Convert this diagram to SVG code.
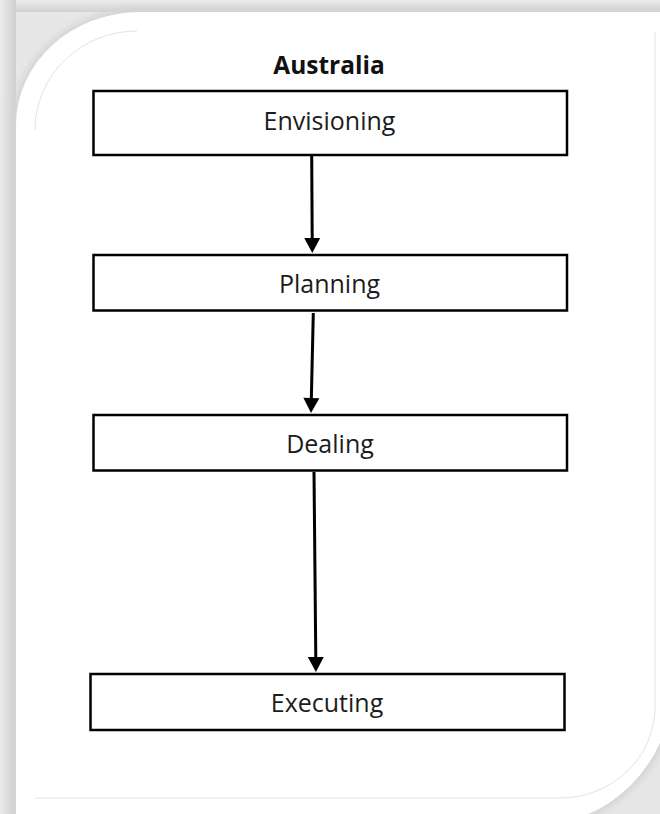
<svg xmlns="http://www.w3.org/2000/svg" width="660" height="814" viewBox="0 0 660 814">
  <defs>
    <style>
      .box { fill: #ffffff; stroke: #000000; stroke-width: 2.5; }
      .label { font-family: "Open Sans", "Noto Sans", "Liberation Sans", sans-serif; font-size: 25px; fill: #1c1c1c; text-anchor: middle; }
      .title { font-family: "Open Sans", "Noto Sans", "Liberation Sans", sans-serif; font-size: 24.5px; font-weight: 700; fill: #111111; text-anchor: middle; }
      .flow { fill: none; stroke: #000000; stroke-width: 3; marker-end: url(#head); }
      .rim { fill: none; stroke: #e3e3e3; stroke-width: 1; }
    </style>
    <marker id="head" markerUnits="userSpaceOnUse" markerWidth="18" markerHeight="18" viewBox="0 -9 16 18" refX="2" refY="0" orient="auto">
      <path d="M0,-8 L15,0 L0,8 Z" fill="#000000"/>
    </marker>
    <linearGradient id="topBand" x1="0" y1="0" x2="0" y2="1">
      <stop offset="0" stop-color="#ececec"/>
      <stop offset="1" stop-color="#d2d2d2"/>
    </linearGradient>
    <linearGradient id="leftBand" x1="0" y1="0" x2="1" y2="0">
      <stop offset="0" stop-color="#ebebeb"/>
      <stop offset="1" stop-color="#cfcfcf"/>
    </linearGradient>
    <filter id="soft" x="-10%" y="-10%" width="120%" height="120%">
      <feGaussianBlur stdDeviation="3.5"/>
    </filter>
  </defs>

  <!-- page backdrop and frame shadow -->
  <rect x="0" y="0" width="660" height="814" fill="#e7e7e7"/>
  <rect x="0" y="0" width="660" height="12" fill="url(#topBand)"/>
  <rect x="0" y="0" width="16" height="814" fill="url(#leftBand)"/>
  <path d="M12,826 L12,125 A128,117 0 0 1 140,8 L676,8 L676,686 A144,144 0 0 1 532,830 Z" fill="#d4d4d4" filter="url(#soft)"/>

  <!-- white card -->
  <path id="card" d="M16,826 L16,125 A124,113 0 0 1 140,12 L672,12 L672,686 A140,140 0 0 1 532,826 Z" fill="#ffffff"/>
  <path class="rim" d="M35,130 A102,99 0 0 1 137,31"/>
  <path class="rim" d="M655,32 L655,707 A95,91 0 0 1 560,798 L35,798"/>

  <text class="title" x="329" y="73.5">Australia</text>

  <g id="connectors">
    <path class="flow" d="M311.7,156 L312.2,240"/>
    <path class="flow" d="M313.3,313 L311.3,400"/>
    <path class="flow" d="M314,472 L315.8,659"/>
  </g>

  <g id="envisioning">
    <rect class="box" x="93.5" y="91" width="473.5" height="64"/>
    <text class="label" x="329.5" y="130">Envisioning</text>
  </g>
  <g id="planning">
    <rect class="box" x="93.5" y="255" width="473.5" height="55.5"/>
    <text class="label" x="329.5" y="292.5">Planning</text>
  </g>
  <g id="dealing">
    <rect class="box" x="93.5" y="415" width="473.5" height="55.5"/>
    <text class="label" x="330" y="452.5">Dealing</text>
  </g>
  <g id="executing">
    <rect class="box" x="90.5" y="674" width="474" height="56"/>
    <text class="label" x="327" y="712">Executing</text>
  </g>
</svg>
